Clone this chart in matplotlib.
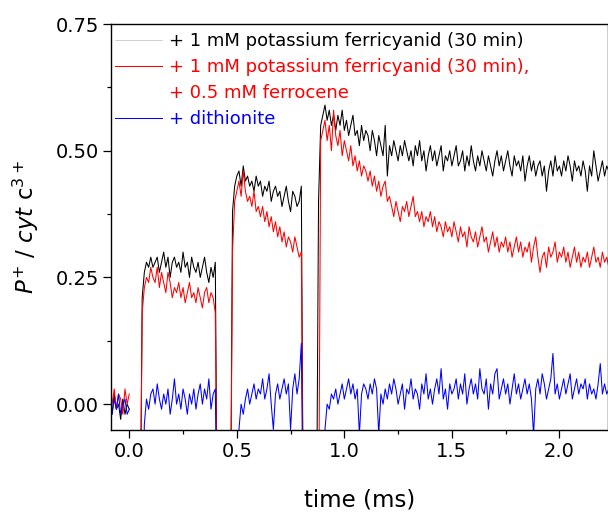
import numpy as np
import matplotlib
matplotlib.use("Agg")
import matplotlib.pyplot as plt
from matplotlib.ticker import MultipleLocator, FormatStrFormatter
from matplotlib.lines import Line2D

plt.rcParams['font.family'] = ['DejaVu Sans']
plt.rcParams['mathtext.fontset'] = 'dejavusans'

N = np.nan   # no data
G = -0.3     # signal below scale during flash gaps

# time grid: -0.09 ... 2.23 ms in 0.01 ms steps (rows of 10 below)
time_ms = np.round(np.arange(-9, 224) * 0.01, 2)

black_vals = [
    0.01, -0.02, 0.02, -0.01, 0.00, -0.03, 0.01, -0.02, 0.00, -0.01,   # -0.09..0.00
    N, N, N, N, G, 0.21, 0.26, 0.28, 0.27, 0.29,                       # 0.01..0.10
    0.27, 0.28, 0.29, 0.26, 0.28, 0.30, 0.27, 0.29, 0.25, 0.28,
    0.29, 0.27, 0.28, 0.26, 0.30, 0.27, 0.28, 0.25, 0.29, 0.27,
    0.26, 0.28, 0.25, 0.27, 0.29, 0.26, 0.24, 0.27, 0.25, 0.28,        # ..0.40
    G, G, G, G, G, G, G, 0.38, 0.43, 0.45,                             # ..0.50
    0.46, 0.43, 0.47, 0.44, 0.45, 0.43, 0.44, 0.42, 0.45, 0.43,
    0.44, 0.41, 0.43, 0.42, 0.44, 0.40, 0.42, 0.43, 0.41, 0.42,
    0.39, 0.41, 0.43, 0.40, 0.38, 0.42, 0.41, 0.39, 0.40, 0.43,        # ..0.80
    G, G, G, G, G, G, G, 0.40, 0.55, 0.57,                             # ..0.90
    0.59, 0.56, 0.58, 0.55, 0.57, 0.54, 0.57, 0.55, 0.58, 0.54,
    0.56, 0.53, 0.55, 0.57, 0.53, 0.54, 0.51, 0.55, 0.52, 0.54,
    0.53, 0.50, 0.54, 0.52, 0.49, 0.53, 0.51, 0.49, 0.55, 0.45,
    0.51, 0.49, 0.52, 0.50, 0.48, 0.51, 0.49, 0.52, 0.50, 0.48,
    0.50, 0.47, 0.51, 0.49, 0.52, 0.48, 0.50, 0.46, 0.49, 0.51,
    0.48, 0.50, 0.47, 0.49, 0.51, 0.46, 0.49, 0.48, 0.50, 0.47,
    0.49, 0.51, 0.47, 0.48, 0.50, 0.46, 0.49, 0.47, 0.51, 0.48,
    0.46, 0.49, 0.47, 0.50, 0.48, 0.46, 0.49, 0.47, 0.45, 0.48,
    0.50, 0.47, 0.49, 0.46, 0.48, 0.50, 0.47, 0.45, 0.49, 0.47,
    0.48, 0.46, 0.49, 0.44, 0.47, 0.49, 0.46, 0.48, 0.45, 0.47,
    0.48, 0.45, 0.47, 0.42, 0.46, 0.48, 0.45, 0.49, 0.46, 0.47,
    0.45, 0.48, 0.46, 0.49, 0.47, 0.44, 0.48, 0.46, 0.47, 0.45,
    0.48, 0.46, 0.42, 0.47, 0.45, 0.50, 0.47, 0.44, 0.46, 0.48,
    0.45, 0.47, 0.46,
]

red_vals = [
    0.02, 0.00, 0.03, -0.01, 0.02, 0.01, -0.02, 0.03, 0.00, 0.02,
    N, N, N, N, G, 0.18, 0.23, 0.25, 0.24, 0.27,
    0.25, 0.24, 0.27, 0.23, 0.26, 0.24, 0.22, 0.26, 0.24, 0.21,
    0.23, 0.22, 0.24, 0.21, 0.23, 0.20, 0.22, 0.24, 0.21, 0.22,
    0.20, 0.23, 0.21, 0.19, 0.22, 0.23, 0.20, 0.22, 0.21, 0.18,
    G, G, G, G, G, G, G, 0.30, 0.40, 0.42,
    0.44, 0.41, 0.46, 0.42, 0.40, 0.41, 0.39, 0.42, 0.38, 0.39,
    0.37, 0.39, 0.36, 0.38, 0.35, 0.37, 0.34, 0.36, 0.33, 0.35,
    0.32, 0.34, 0.31, 0.33, 0.32, 0.30, 0.33, 0.31, 0.29, 0.30,
    G, G, G, G, G, G, G, G, 0.52, 0.54,
    0.56, 0.52, 0.55, 0.50, 0.58, 0.53, 0.51, 0.54, 0.49, 0.52,
    0.50, 0.48, 0.51, 0.47, 0.49, 0.46, 0.48, 0.45, 0.47, 0.46,
    0.44, 0.46, 0.43, 0.45, 0.42, 0.44, 0.41, 0.43, 0.44, 0.40,
    0.41, 0.39, 0.37, 0.40, 0.38, 0.36, 0.39, 0.38, 0.40, 0.37,
    0.39, 0.41, 0.37, 0.38, 0.36, 0.38, 0.35, 0.37, 0.36, 0.38,
    0.35, 0.37, 0.34, 0.36, 0.35, 0.33, 0.36, 0.34, 0.35, 0.33,
    0.36, 0.34, 0.32, 0.35, 0.33, 0.34, 0.31, 0.35, 0.33, 0.32,
    0.34, 0.31, 0.33, 0.35, 0.32, 0.33, 0.30, 0.32, 0.34, 0.31,
    0.33, 0.30, 0.32, 0.31, 0.33, 0.30, 0.32, 0.29, 0.31, 0.33,
    0.30, 0.32, 0.29, 0.31, 0.30, 0.32, 0.28, 0.31, 0.33, 0.29,
    0.26, 0.29, 0.30, 0.27, 0.31, 0.29, 0.30, 0.32, 0.28, 0.30,
    0.29, 0.31, 0.28, 0.30, 0.27, 0.29, 0.31, 0.28, 0.30, 0.27,
    0.29, 0.28, 0.30, 0.27, 0.29, 0.31, 0.28, 0.29, 0.27, 0.30,
    0.28, 0.29, 0.27,
]

blue_vals = [
    0.00, -0.02, 0.01, -0.01, 0.02, -0.02, 0.00, 0.01, -0.02, -0.01,
    N, N, N, N, N, G, -0.04, 0.01, -0.01, 0.02,
    0.03, 0.00, 0.04, 0.01, -0.01, 0.02, 0.00, 0.03, -0.02, 0.01,
    0.05, 0.00, 0.02, -0.01, 0.03, 0.01, -0.02, 0.02, 0.00, 0.03,
    -0.01, 0.02, 0.04, 0.00, 0.03, 0.01, 0.05, -0.01, 0.02, 0.03,
    G, G, G, G, G, G, G, G, G, G,
    -0.05, 0.00, -0.02, 0.01, 0.03, 0.00, 0.02, 0.04, 0.01, 0.03,
    0.02, 0.05, 0.01, 0.03, 0.06, 0.00, -0.05, 0.02, 0.04, 0.01,
    0.03, 0.05, 0.02, 0.04, -0.05, 0.03, 0.06, 0.02, 0.05, 0.12,
    G, G, G, G, G, G, G, G, G, G,
    -0.05, 0.00, -0.01, 0.02, 0.01, 0.03, 0.00, 0.02, 0.04, 0.01,
    0.03, 0.05, 0.02, 0.04, 0.01, 0.03, -0.06, 0.02, 0.04, 0.03,
    0.01, 0.04, 0.02, 0.05, 0.03, -0.06, 0.02, 0.00, 0.03, 0.01,
    0.04, 0.02, 0.05, 0.03, 0.00, 0.02, 0.04, -0.01, 0.03, 0.02,
    0.05, 0.01, 0.03, 0.02, -0.01, 0.04, 0.02, 0.06, 0.01, 0.03,
    0.00, 0.03, 0.05, 0.02, 0.07, 0.01, 0.03, -0.01, 0.04, 0.02,
    0.03, 0.05, 0.01, 0.04, 0.02, 0.06, 0.00, 0.03, 0.05, 0.02,
    0.04, 0.01, 0.07, 0.03, 0.02, 0.05, -0.01, 0.04, 0.02, 0.06,
    0.07, 0.01, 0.03, 0.05, 0.02, 0.04, 0.00, 0.03, 0.06, 0.02,
    0.04, 0.01, 0.03, 0.05, 0.02, 0.04, 0.01, -0.06, 0.03, 0.05,
    0.02, 0.06, 0.04, 0.01, 0.03, 0.05, 0.10, 0.02, 0.04, 0.01,
    0.03, 0.05, 0.02, 0.04, 0.06, 0.01, 0.03, 0.05, 0.02, 0.04,
    0.03, 0.05, 0.01, 0.04, 0.02, 0.03, 0.01, 0.04, 0.08, 0.02,
    0.04, 0.02, 0.03,
]

legend_labels = [
    "+ 1 mM potassium ferricyanid (30 min)",
    "+ 1 mM potassium ferricyanid (30 min),",
    "+ 0.5 mM ferrocene",
    "+ dithionite",
]
colors = ["black", "#ff0000", "#0000ff"]

fig = plt.figure(figsize=(6.08, 5.15), dpi=100)
ax = fig.add_axes([111 / 608, 85 / 515, 497 / 608, 406 / 515])

for vals, col in zip([black_vals, red_vals, blue_vals], colors):
    ax.plot(time_ms, vals, color=col, lw=0.75)

ax.set_xlim(-0.085, 2.226)
ax.set_ylim(-0.051, 0.75)
ax.xaxis.set_major_locator(MultipleLocator(0.5))
ax.xaxis.set_minor_locator(MultipleLocator(0.25))
ax.yaxis.set_major_locator(MultipleLocator(0.25))
ax.yaxis.set_minor_locator(MultipleLocator(0.125))
ax.xaxis.set_major_formatter(FormatStrFormatter('%.1f'))
ax.yaxis.set_major_formatter(FormatStrFormatter('%.2f'))
ax.tick_params(which='major', direction='out', length=5.5, width=0.9, labelsize=14, pad=3)
ax.tick_params(which='minor', direction='out', length=2.8, width=0.9)
for s in ax.spines.values():
    s.set_linewidth(1.0)

ax.set_xlabel("time (ms)", fontsize=16.5)
ax.set_ylabel(r"$P^{+}$ / $cyt$ c$^{3+}$", fontsize=16.5)
ax.xaxis.set_label_coords(0.5, -0.145)
ax.yaxis.set_label_coords(-0.14, 0.5)

handle_colors = ['#bdbdbd', '#ff0000', 'white', '#0000ff']
handle_widths = [0.5, 0.75, 0.0, 0.75]
handles = [Line2D([0, 1], [0, 0], color=c, lw=w) for c, w in zip(handle_colors, handle_widths)]
text_colors = ['black', '#ff0000', '#ff0000', '#0000ff']
leg = ax.legend(handles, legend_labels, loc='upper left',
                bbox_to_anchor=(0.008, 0.980), frameon=False,
                fontsize=13, handlelength=2.6, handletextpad=0.4,
                borderpad=0, borderaxespad=0, labelspacing=0.45)
for line, c, w in zip(leg.get_lines(), handle_colors, handle_widths):
    line.set_color(c)
    line.set_linewidth(w)
    if w == 0:
        line.set_visible(False)
for txt, c in zip(leg.get_texts(), text_colors):
    txt.set_color(c)

fig.savefig("out.png", dpi=100)
